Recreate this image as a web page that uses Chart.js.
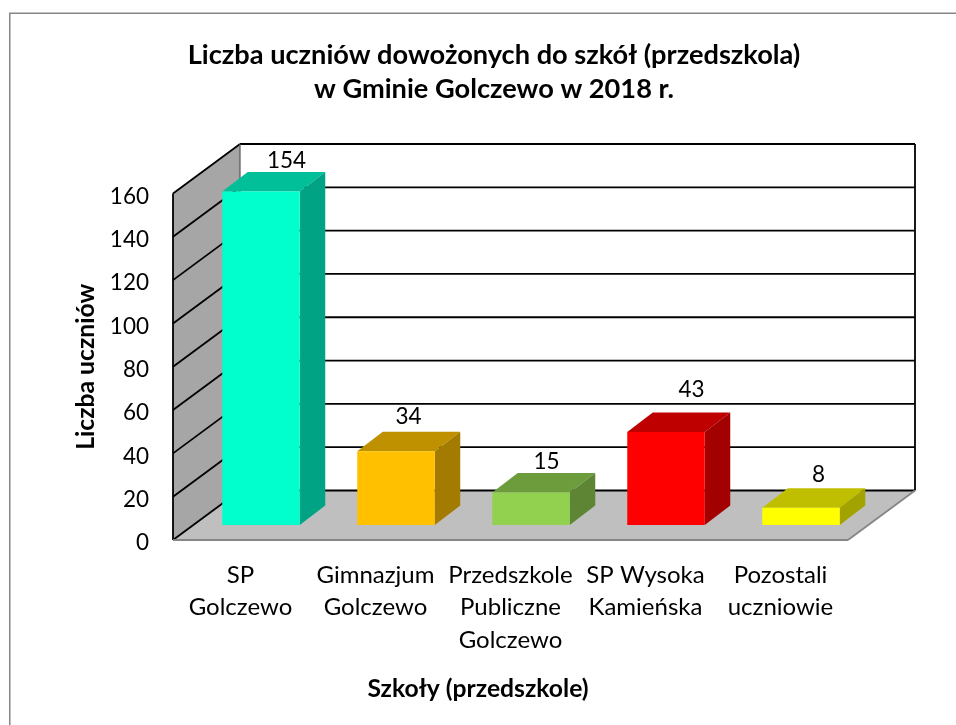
<!DOCTYPE html>
<html><head><meta charset="utf-8">
<style>html,body{margin:0;padding:0;background:#fff}canvas{display:block}</style>
<script src="https://cdn.jsdelivr.net/npm/chart.js@4"></script></head>
<body><div style="width:956px;height:725px"><canvas id="c" width="956" height="725"></canvas></div>
<script>
const categories = [['SP','Golczewo'],['Gimnazjum','Golczewo'],['Przedszkole','Publiczne','Golczewo'],['SP Wysoka','Kamieńska'],['Pozostali','uczniowie']];
const values = [154,34,15,43,8];
const frontColors = ['#00FFCC','#FFC000','#92D050','#FF0000','#FFFF00'];
const topColors = ['#00BF99','#BF9000','#6D9C3C','#BF0000','#BFBF00'];
const sideColors = ['#00A383','#A37B00','#5D8533','#A30000','#A3A300'];
const titleLines = ['Liczba uczniów dowożonych do szkół (przedszkola)','w Gminie Golczewo w 2018 r.'];
const yTitle = 'Liczba uczniów';
const xTitle = 'Szkoły (przedszkole)';
// 3D projection parameters
const WALL = {dx:67, dy:-49.5};
const BAR_OFF = {dx:20.5, dy:-15};
const BAR_DEPTH = {dx:25.5, dy:-19.5};
const labelNudge = [[0,-11],[-13,-15],[-10,-11],[0,-23],[-8,-13]];
const FONT = 'Lato';

function poly(ctx, pts, fill){ ctx.beginPath(); pts.forEach((p,i)=>i?ctx.lineTo(p[0],p[1]):ctx.moveTo(p[0],p[1])); ctx.closePath(); ctx.fillStyle=fill; ctx.fill(); }
function seg(ctx,x1,y1,x2,y2,color,w){ ctx.beginPath(); ctx.moveTo(x1,y1); ctx.lineTo(x2,y2); ctx.strokeStyle=color; ctx.lineWidth=w; ctx.stroke(); }

const box3d = {
  id:'box3d',
  afterLayout(chart){
    const t = chart.titleBlock; t.left = 0; t.right = 988;
    const s = chart.scales.x;
    if(!s._shifted){ s._shifted = true; const orig = s.drawTitle;
      s.drawTitle = function(){ const l=this.left,r=this.right; this.left=l-32.5; this.right=r-32.5; orig.call(this); this.left=l; this.right=r; }; }
    const v = chart.scales.y;
    if(!v._shifted){ v._shifted = true; const origL = v.drawLabels;
      v.drawLabels = function(ca){ const c=this.ctx; c.save(); c.translate(0,3); origL.call(this,ca); c.restore(); }; }
  },
  beforeDraw(chart){
    const ctx = chart.ctx; ctx.save();
    ctx.fillStyle='#fff'; ctx.fillRect(0,0,chart.width,chart.height);
    ctx.strokeStyle='#868686'; ctx.lineWidth=1.5;
    ctx.strokeRect(9.75,13.25,chart.width+20,chart.height+20);
    ctx.restore();
  },
  beforeDatasetsDraw(chart){
    const ctx = chart.ctx, y = chart.scales.y, a = chart.chartArea;
    const {dx,dy} = WALL, L=a.left, R=a.right, B=y.getPixelForValue(0), T=y.getPixelForValue(160);
    ctx.save();
    poly(ctx,[[L,B],[L+dx,B+dy],[L+dx,T+dy],[L,T]],'#A6A6A6');
    poly(ctx,[[L,B],[R,B],[R+dx,B+dy],[L+dx,B+dy]],'#BFBFBF');
    y.ticks.forEach(t=>{
      const py = y.getPixelForValue(t.value);
      seg(ctx,L+dx,py+dy,R+dx,py+dy,'#000',1.8);
      if(t.value!==0) seg(ctx,L,py,L+dx,py+dy,'#000',1.8);
    });
    seg(ctx,L,B,L+dx,B+dy,'#000',1.8);
    seg(ctx,L+dx,T+dy,L+dx,B+dy,'#555',1.2);
    seg(ctx,R+dx,T+dy,R+dx,B+dy,'#000',1.8);
    seg(ctx,L,T,L,B,'#000',1.8);
    seg(ctx,L,B,R,B,'#868686',1.8);
    seg(ctx,R,B,R+dx,B+dy,'#868686',1.8);
    ctx.restore();
  },
  beforeDatasetDraw(chart,args){
    const ctx = chart.ctx;
    ctx.save(); ctx.translate(BAR_OFF.dx,BAR_OFF.dy);
    args.meta.data.forEach((b,i)=>{
      const l=b.x-b.width/2, r=b.x+b.width/2, t=b.y, base=b.base, d=BAR_DEPTH;
      poly(ctx,[[l,t],[r,t],[r+d.dx,t+d.dy],[l+d.dx,t+d.dy]],topColors[i]);
      poly(ctx,[[r,t],[r,base],[r+d.dx,base+d.dy],[r+d.dx,t+d.dy]],sideColors[i]);
    });
  },
  afterDatasetDraw(chart,args){
    chart.ctx.restore();
  },
  afterDatasetsDraw(chart,args){
    const ctx = chart.ctx, meta = chart.getDatasetMeta(0);
    ctx.save(); ctx.font = '22.5px '+FONT; ctx.fillStyle='#000'; ctx.textAlign='center'; ctx.textBaseline='middle';
    meta.data.forEach((b,i)=>{
      const x = b.x+BAR_OFF.dx+BAR_DEPTH.dx+labelNudge[i][0];
      const y = b.y+BAR_OFF.dy+BAR_DEPTH.dy+labelNudge[i][1];
      ctx.fillText(String(values[i]),x,y);
    });
    ctx.restore();
  }
};

new Chart(document.getElementById('c'),{
  type:'bar',
  data:{labels:categories,datasets:[{data:values,backgroundColor:frontColors,borderWidth:0,barPercentage:0.574,categoryPercentage:1,clip:false}]},
  options:{
    responsive:false,animation:false,
    layout:{padding:{top:0,left:0,right:108,bottom:0}},
    plugins:{
      legend:{display:false},tooltip:{enabled:false},
      title:{display:true,text:titleLines,color:'#000',font:{family:FONT,size:27.2,weight:'bold',lineHeight:'34px'},padding:{top:38,bottom:87.5}}
    },
    scales:{
      x:{
        afterFit(s){s.height=185;},
        grid:{display:false},border:{display:false},
        ticks:{color:'#000',font:{family:FONT,size:24,lineHeight:'32.5px'},maxRotation:0,minRotation:0,autoSkip:false,padding:11},
        title:{display:true,text:xTitle,color:'#000',font:{family:FONT,size:24.7,weight:'bold',lineHeight:'30px'},padding:{top:0,bottom:21}}
      },
      y:{
        min:0,max:160,
        afterFit(s){s.width=173;},
        grid:{display:false},border:{display:false},
        ticks:{stepSize:20,color:'#000',font:{family:FONT,size:22.5},padding:16},
        title:{display:true,text:yTitle,color:'#000',font:{family:FONT,size:24.7,weight:'bold',lineHeight:'30px'},padding:{top:71,bottom:0}}
      }
    }
  },
  plugins:[box3d]
});
</script></body></html>
